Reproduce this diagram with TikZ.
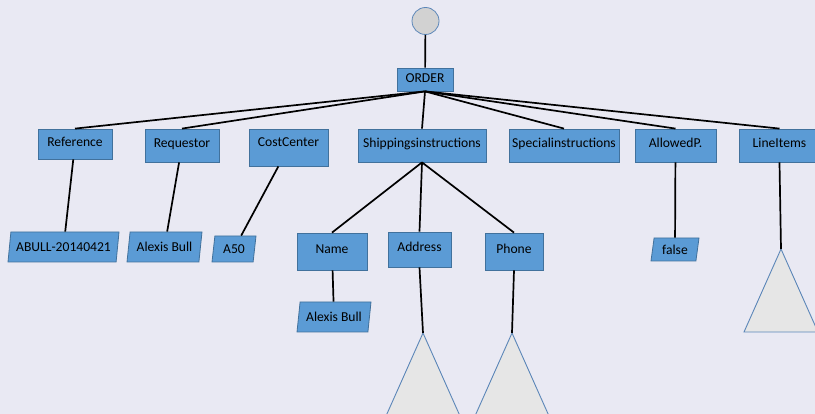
\documentclass[tikz,border=0pt]{standalone}
\usepackage{fontspec}
\setmainfont{Carlito}
\usetikzlibrary{shapes.geometric}
\definecolor{bgpage}{HTML}{E9E9F3}
\definecolor{boxblue}{HTML}{5B9BD5}
\definecolor{boxline}{HTML}{41719C}
\definecolor{trifill}{HTML}{E6E6E6}
\definecolor{triline}{HTML}{5B86B8}
\tikzset{
  elem/.style={rectangle,draw=boxline,fill=boxblue,line width=0.8pt,inner sep=0pt,
    text depth=5pt,font=\fontsize{13.6}{15}\selectfont},
  val/.style={trapezium,trapezium left angle=72,trapezium right angle=108,
    trapezium stretches body,draw=boxline,fill=boxblue,line width=0.8pt,inner sep=0pt,
    font=\fontsize{13.6}{15}\selectfont},
  edge/.style={line width=1.7pt,black},
  subtree/.style={draw=triline,fill=trifill,line width=0.9pt}
}
\begin{document}
\begin{tikzpicture}[x=1pt,y=-1pt]
  \fill[bgpage] (0,0) rectangle (815,414);
  \useasboundingbox (0,0) rectangle (815,414);
  \clip (0,0) rectangle (815,414);
  % root
  \node[circle,draw=triline,fill=gray!35,line width=0.8pt,minimum size=27pt,inner sep=0pt] (root) at (425.5,21) {};
  \node[elem,minimum width=56pt,minimum height=23pt,text depth=3pt] (order) at (425,79.5) {ORDER};
  % first level
  \node[elem,minimum width=74pt,minimum height=30pt] (ref) at (75,144) {Reference};
  \node[elem,minimum width=74pt,minimum height=33pt] (req) at (182,145.5) {Requestor};
  \node[elem,minimum width=79pt,minimum height=37pt,text depth=10pt] (cost) at (288.5,147.5) {CostCenter};
  \node[elem,minimum width=128pt,minimum height=33pt] (ship) at (422,145.5) {Shippingsinstructions};
  \node[elem,minimum width=110pt,minimum height=33pt] (spec) at (564,145.5) {Specialinstructions};
  \node[elem,minimum width=81pt,minimum height=33pt] (allow) at (675.5,145.5) {AllowedP.};
  \node[elem,minimum width=81pt,minimum height=33pt] (items) at (779.5,145.5) {LineItems};
  % values
  \node[val,minimum width=111pt,minimum height=30pt] (abull) at (63.5,247) {ABULL-20140421};
  \node[val,minimum width=75pt,minimum height=30pt] (alexis) at (164.5,247) {Alexis Bull};
  \node[val,minimum width=44pt,minimum height=26pt] (afifty) at (234,249) {A50};
  \node[val,minimum width=48pt,minimum height=23pt] (false) at (675,249.5) {false};
  % shipping instructions
  \node[elem,minimum width=70pt,minimum height=37pt] (name) at (332,251.5) {Name};
  \node[elem,minimum width=63pt,minimum height=35pt] (addr) at (419.5,249.5) {Address};
  \node[elem,minimum width=58pt,minimum height=37pt] (phone) at (514,251.5) {Phone};
  \node[val,minimum width=74pt,minimum height=30pt] (alexisb) at (334,317) {Alexis Bull};
  % subtrees
  \coordinate (addrT) at (423,333); \coordinate (phoneT) at (512,333); \coordinate (itemsT) at (781,249);
  \foreach \t in {addrT,phoneT,itemsT}
    \draw[subtree] (\t) -- ++(-37,83) -- ++(74,0) -- cycle;
  % connectors
  \draw[edge] (root) -- (order);
  \foreach \c in {ref,req,ship,spec,allow,items}
    \draw[edge] (order.south) -- (\c.north);
  \draw[edge] (ref) -- (abull);
  \draw[edge] (req) -- (alexis);
  \draw[edge] (cost) -- (afifty);
  \draw[edge] (allow) -- (false);
  \foreach \c in {name,addr,phone}
    \draw[edge] (ship.south) -- (\c.north);
  \draw[edge] (name) -- (alexisb);
  \draw[edge] (addr.south) -- (addrT);
  \draw[edge] (phone.south) -- (phoneT);
  \draw[edge] (items.south) -- (itemsT);
\end{tikzpicture}
\end{document}
